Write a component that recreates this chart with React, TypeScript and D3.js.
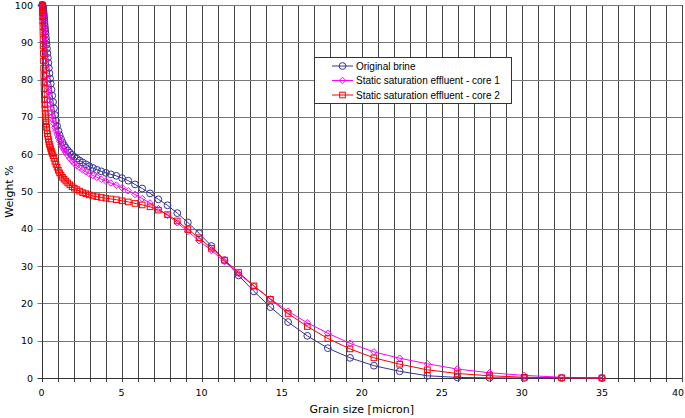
import React from "react";
import * as d3 from "d3";

// particle size bins [micron], ascending
const grainSize = [
  0.0492, 0.053, 0.0571, 0.0615, 0.0663, 0.0714, 0.077, 0.083, 0.0894, 0.0963,
  0.104, 0.112, 0.121, 0.13, 0.14, 0.151, 0.162, 0.175, 0.189, 0.203,
  0.219, 0.236, 0.254, 0.274, 0.295, 0.318, 0.343, 0.369, 0.398, 0.429,
  0.462, 0.498, 0.536, 0.578, 0.622, 0.671, 0.723, 0.779, 0.839, 0.904,
  0.974, 1.05, 1.13, 1.22, 1.31, 1.41, 1.52, 1.64, 1.77, 1.91,
  2.05, 2.21, 2.38, 2.57, 2.77, 2.98, 3.21, 3.46, 3.73, 4.02,
  4.33, 4.67, 5.03, 5.42, 5.84, 6.29, 6.78, 7.3, 7.87, 8.48,
  9.14, 9.84, 10.61, 11.43, 12.31, 13.27, 14.3, 15.4, 16.6, 17.88,
  19.27, 20.76, 22.37, 24.1, 25.97, 27.98, 30.15, 32.48, 35.0,
];

const originalBrine = [
  100, 100, 99.9, 99.9, 99.8, 99.7, 99.6, 99.5, 99.3, 99.1,
  98.9, 98.6, 98.3, 97.9, 97.5, 97.0, 96.5, 95.9, 95.2, 94.5,
  93.8, 93.0, 92.2, 91.3, 90.4, 89.4, 88.3, 87.1, 85.8, 84.5,
  83.1, 81.7, 80.3, 78.9, 77.3, 75.7, 74.0, 72.3, 70.5, 69.0,
  67.6, 66.3, 65.1, 64.1, 63.2, 62.4, 61.7, 61.0, 60.4, 59.8,
  59.3, 58.8, 58.3, 57.8, 57.3, 56.8, 56.3, 55.8, 55.4, 55.0,
  54.6, 54.2, 53.6, 52.9, 51.9, 50.8, 49.5, 47.9, 46.3, 44.2,
  41.7, 38.8, 35.4, 31.6, 27.5, 23.2, 19.0, 15.0, 11.3, 8.0,
  5.4, 3.3, 1.8, 0.6, 0.15, 0.05, 0, 0, 0,
];

const core1 = [
  100, 99.9, 99.8, 99.7, 99.5, 99.3, 99.0, 98.7, 98.3, 97.9,
  97.4, 96.8, 96.1, 95.3, 94.4, 93.4, 92.4, 91.3, 90.1, 88.9,
  87.6, 86.3, 85.0, 83.7, 82.4, 81.2, 80.0, 78.9, 77.8, 76.7,
  75.6, 74.5, 73.4, 72.3, 71.2, 70.2, 69.2, 68.2, 67.2, 66.2,
  65.3, 64.4, 63.5, 62.7, 61.9, 61.2, 60.5, 59.7, 58.9, 58.2,
  57.5, 56.9, 56.4, 55.8, 55.3, 54.8, 54.3, 53.8, 53.3, 52.8,
  52.3, 51.7, 51.0, 50.2, 49.2, 48.1, 46.9, 45.4, 43.6, 41.6,
  39.3, 36.8, 34.2, 31.2, 28.0, 24.6, 21.2, 17.9, 14.8, 12.0,
  9.3, 7.0, 5.3, 3.8, 2.4, 1.4, 0.7, 0.2, 0,
];

const core2 = [
  100, 99.7, 99.3, 98.7, 97.9, 96.9, 95.7, 94.3, 92.7, 90.9,
  89.0, 87.0, 85.0, 83.0, 81.1, 79.3, 77.6, 76.0, 74.6, 73.3,
  72.1, 71.0, 70.0, 69.0, 68.1, 67.2, 66.3, 65.5, 64.7, 64.0,
  63.3, 62.6, 62.0, 61.4, 60.8, 60.2, 59.6, 58.9, 58.1, 57.3,
  56.5, 55.7, 55.0, 54.4, 53.8, 53.3, 52.8, 52.3, 51.8, 51.3,
  50.9, 50.5, 50.1, 49.7, 49.4, 49.1, 48.8, 48.6, 48.4, 48.2,
  48.0, 47.8, 47.5, 47.2, 46.8, 46.4, 45.9, 45.0, 43.8, 42.1,
  39.8, 37.6, 34.8, 31.6, 28.3, 24.7, 21.1, 17.3, 13.8, 10.6,
  7.8, 5.4, 3.7, 2.2, 1.2, 0.6, 0.2, 0.05, 0,
];

const seriesNames = [
  "Original brine",
  "Static saturation effluent - core 1",
  "Static saturation effluent - core 2",
];
const seriesColors = ["#333399", "#ff00ff", "#ff0000"];
const seriesShapes = ["circle", "diamond", "square"];

const xTicks = d3.range(0, 41, 5);
const yTicks = d3.range(0, 101, 10);

const W = 685;
const H = 418;

const Marker = ({ shape, x, y, color }) => {
  if (shape === "circle") {
    return <circle cx={x} cy={y} r={3.4} fill="none" stroke={color} strokeWidth={1} />;
  }
  if (shape === "diamond") {
    const s = 3.3;
    return (
      <path
        d={`M${x},${y - s}L${x + s},${y}L${x},${y + s}L${x - s},${y}Z`}
        fill="none"
        stroke={color}
        strokeWidth={1}
      />
    );
  }
  return <rect x={x - 2.8} y={y - 2.8} width={5.6} height={5.6} fill="none" stroke={color} strokeWidth={1} />;
};

const App = () => {
  const x = d3.scaleLinear().domain([0, 40]).range([41.5, 682]);
  const y = d3.scaleLinear().domain([0, 100]).range([378, 5]);

  const allSeries = [originalBrine, core1, core2].map((vals, i) => ({
    name: seriesNames[i],
    color: seriesColors[i],
    shape: seriesShapes[i],
    points: vals.map((v, j) => ({ size: grainSize[j], w: v })),
  }));

  const line = d3.line().x((d) => x(d.size)).y((d) => y(d.w));

  const px = (v) => Math.round(v) + 0.5;

  return (
    <svg width={W} height={H} style={{ position: "absolute", left: 0, top: 0 }}>
      <rect width={W} height={H} fill="#ffffff" />

      {/* grid */}
      {d3.range(1, 41).map((t) => (
        <line key={"vx" + t} x1={px(x(t))} x2={px(x(t))} y1={y(100)} y2={y(0) + 4} stroke="#444" strokeWidth={1} />
      ))}
      {yTicks.slice(1).map((t) => (
        <line key={"hy" + t} x1={x(0) - 4} x2={x(40)} y1={px(y(t))} y2={px(y(t))} stroke="#777" strokeWidth={1} />
      ))}

      {/* axes */}
      <line x1={px(x(0))} x2={px(x(0))} y1={y(100)} y2={y(0) + 4} stroke="#333" strokeWidth={1} />
      <line x1={x(0) - 4} x2={x(40)} y1={px(y(0))} y2={px(y(0))} stroke="#333" strokeWidth={1} />

      {xTicks.map((t) => (
        <text
          key={"xt" + t}
          x={Math.min(x(t), W - 7)}
          y={396}
          textAnchor="middle"
          fontFamily="DejaVu Sans"
          fontSize={9.5}
          fill="#000"
        >
          {t}
        </text>
      ))}
      {yTicks.map((t) => (
        <text key={"yt" + t} x={33} y={y(t) + 3.5} textAnchor="end" fontFamily="DejaVu Sans" fontSize={9.5} fill="#000">
          {t}
        </text>
      ))}

      <text x={x(20)} y={413} textAnchor="middle" fontFamily="DejaVu Sans" fontSize={11} fill="#000">
        Grain size [micron]
      </text>
      <text
        transform={`translate(${13},${y(50)}) rotate(-90)`}
        textAnchor="middle"
        fontFamily="DejaVu Sans"
        fontSize={11}
        fill="#000"
      >
        Weight %
      </text>

      {/* series */}
      {allSeries.map((s) => (
        <g key={s.name}>
          <path d={line(s.points)} fill="none" stroke={s.color} strokeWidth={1} />
          {s.points.map((d, j) => (
            <Marker key={j} shape={s.shape} x={x(d.size)} y={y(d.w)} color={s.color} />
          ))}
        </g>
      ))}

      {/* legend */}
      <g>
        <rect x={314.5} y={57.5} width={197} height={46} fill="#fff" stroke="#333" strokeWidth={1} />
        {allSeries.map((s, i) => {
          const ly = 66 + i * 14.5;
          return (
            <g key={"lg" + i}>
              <line x1={332} x2={353} y1={ly} y2={ly} stroke={s.color} strokeWidth={1} />
              <Marker shape={s.shape} x={342.5} y={ly} color={s.color} />
              <text x={356} y={ly + 3.5} fontFamily="Liberation Sans, Arial" fontSize={10} fill="#000">
                {s.name}
              </text>
            </g>
          );
        })}
      </g>
    </svg>
  );
};

export default App;
